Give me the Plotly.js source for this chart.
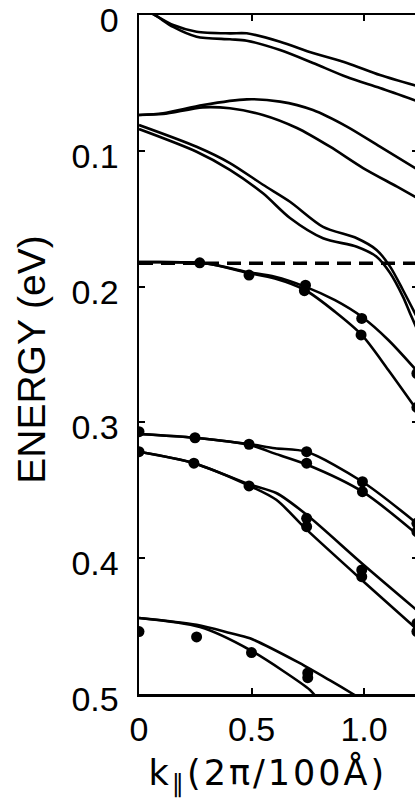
<!DOCTYPE html>
<html>
<head>
<meta charset="utf-8">
<script src="https://cdn.plot.ly/plotly-3.0.1.min.js"></script>
<style>
html,body{margin:0;padding:0;overflow:hidden;background:#fff;}
#chart .annotation-text.xtitle{letter-spacing:3px;}
</style>
</head>
<body>
<div id="chart" style="width:418px;height:799px;"></div>
<script>
// ---- calculated subband dispersion curves (k in 2pi/100A, E in eV) ----
const kA = [0, 0.07, 0.152, 0.256, 0.404, 0.479, 0.627, 0.773, 0.924, 1.071, 1.24];
const eA1 = [-0.006, 0, 0.0074, 0.0123, 0.0135, 0.0135, 0.0197, 0.028, 0.0353, 0.0442, 0.0525];
const eA2 = [-0.006, 0, 0.0088, 0.016, 0.0179, 0.0189, 0.0258, 0.0353, 0.0457, 0.0538, 0.0636];

const kB1 = [0, 0.107, 0.284, 0.479, 0.627, 0.773, 0.924, 1.071, 1.24];
const eB1 = [0.0736, 0.0724, 0.0663, 0.0621, 0.0638, 0.070, 0.0822, 0.097, 0.114];
const kB2 = [0, 0.107, 0.284, 0.404, 0.551, 0.702, 0.849, 0.996, 1.147, 1.24];
const eB2 = [0.0736, 0.0729, 0.068, 0.0687, 0.0736, 0.0832, 0.097, 0.1127, 0.1264, 0.135];

const kC1 = [0, 0.256, 0.404, 0.551, 0.671, 0.818, 0.968, 1.056, 1.116, 1.173, 1.24];
const eC1 = [0.081, 0.097, 0.109, 0.125, 0.1375, 0.156, 0.1644, 0.173, 0.1853, 0.2025, 0.224];
const kC2 = [0, 0.256, 0.404, 0.551, 0.671, 0.818, 0.968, 1.056, 1.116, 1.173, 1.204, 1.24];
const eC2 = [0.084, 0.1007, 0.114, 0.1313, 0.1495, 0.1644, 0.1706, 0.178, 0.19, 0.2074, 0.2194, 0.233];

const kD = [0, 0.3, 0.474, 0.604, 0.738, 0.871, 0.99, 1.108, 1.24];
const eD1 = [0.182, 0.183, 0.189, 0.1927, 0.2, 0.21, 0.2222, 0.2393, 0.263];
const eD2 = [0.182, 0.183, 0.1895, 0.194, 0.2025, 0.2185, 0.2356, 0.2614, 0.292];

const kE = [0, 0.249, 0.489, 0.604, 0.745, 0.993, 1.24];
const eE1 = [0.3085, 0.3113, 0.316, 0.319, 0.3216, 0.3437, 0.375];
const eE2 = [0.3085, 0.3113, 0.3165, 0.323, 0.331, 0.351, 0.383];

const kF = [0, 0.244, 0.489, 0.61, 0.745, 0.99, 1.24];
const eF1 = [0.3216, 0.330, 0.3455, 0.352, 0.368, 0.4037, 0.439];
const eF2 = [0.3216, 0.330, 0.3465, 0.357, 0.379, 0.416, 0.453];

const kG1 = [0, 0.256, 0.404, 0.493, 0.7, 0.849, 0.951, 1.0];
const eG1 = [0.444, 0.449, 0.455, 0.459, 0.476, 0.49, 0.5, 0.505];
const kG2 = [0, 0.271, 0.493, 0.76, 0.782, 0.82];
const eG2 = [0.444, 0.4507, 0.4676, 0.497, 0.501, 0.505];

// Fermi level (dashed)
const kFermi = [0, 1.24];
const eFermi = [0.1828, 0.1828];

// ---- measured points ----
const kDots = [0.27, 0.489, 0.74, 0.735, 0.99, 0.987, 1.235, 1.235,
               0.0, 0.249, 0.489, 0.745, 0.745, 0.993, 0.993, 1.235, 1.235,
               0.0, 0.244, 0.489, 0.745, 0.745, 0.99, 0.99, 1.235, 1.235,
               0.0, 0.256, 0.5, 0.75, 0.75];
const eDots = [0.1825, 0.1915, 0.199, 0.203, 0.2234, 0.2356, 0.264, 0.289,
               0.3068, 0.3113, 0.3161, 0.3216, 0.330, 0.3437, 0.351, 0.3743, 0.3805,
               0.3216, 0.330, 0.3468, 0.3706, 0.3768, 0.4087, 0.4136, 0.448, 0.454,
               0.454, 0.458, 0.4695, 0.4845, 0.488];

// ---- ticks ----
const xTickVals = [0, 0.5, 1.0];
const xTickText = ['0', '0.5', '1.0'];
const yTickVals = [0, 0.1, 0.2, 0.3, 0.4, 0.5];
const yTickText = ['0', '0.1', '0.2', '0.3', '0.4', '0.5'];

const lineStyle = {color: '#000', width: 2.6, shape: 'spline', smoothing: 0.8};
function curve(k, e) {
  return {x: k, y: e, mode: 'lines', line: lineStyle, hoverinfo: 'skip', showlegend: false};
}

const traces = [
  curve(kA, eA1), curve(kA, eA2),
  curve(kB1, eB1), curve(kB2, eB2),
  curve(kC1, eC1), curve(kC2, eC2),
  curve(kD, eD1), curve(kD, eD2),
  curve(kE, eE1), curve(kE, eE2),
  curve(kF, eF1), curve(kF, eF2),
  curve(kG1, eG1), curve(kG2, eG2),
  {x: kFermi, y: eFermi, mode: 'lines', line: {color: '#000', width: 3.5, dash: '14px,8px'}, showlegend: false},
  {x: kDots, y: eDots, mode: 'markers', marker: {color: '#000', size: 11}, showlegend: false}
];

const font = 'Liberation Sans, Arial, sans-serif';
const layout = {
  width: 418, height: 799,
  margin: {l: 139, r: 0, t: 15, b: 105},
  paper_bgcolor: '#fff', plot_bgcolor: '#fff',
  showlegend: false,
  xaxis: {
    range: [0, 1.24], tickvals: xTickVals, ticktext: xTickText,
    ticks: 'inside', ticklen: 6, tickwidth: 2, tickcolor: '#000',
    showline: true, linewidth: 2.5, linecolor: '#000', mirror: 'ticks',
    showgrid: false, zeroline: false,
    tickfont: {family: font, size: 34, color: '#000'},
    ticklabelstandoff: 4, ticklabeloverflow: 'allow'
  },
  yaxis: {
    range: [0.5, 0], tickvals: yTickVals, ticktext: yTickText,
    ticks: 'inside', ticklen: 6, tickwidth: 2, tickcolor: '#000',
    showline: true, linewidth: 2.5, linecolor: '#000', mirror: 'ticks',
    showgrid: false, zeroline: false,
    tickfont: {family: font, size: 34, color: '#000'},
    ticklabelstandoff: 11, ticklabeloverflow: 'allow', ticklabelshift: -5
  },
  annotations: [
    {text: 'ENERGY (eV)', xref: 'paper', yref: 'paper', x: -0.3835, y: 0.306,
     xanchor: 'center', yanchor: 'bottom', textangle: -90, showarrow: false,
     font: {family: font, size: 39, color: '#000'}},
    {text: 'k<sub>\u2225</sub>(2\u03c0/100\u00c5)', xref: 'paper', yref: 'paper', x: 0.462, y: -0.118,
     xanchor: 'center', yanchor: 'middle', showarrow: false,
     font: {family: 'DejaVu Sans, sans-serif', size: 35, color: '#000'}}
  ]
};

Plotly.newPlot('chart', traces, layout, {staticPlot: true, displayModeBar: false}).then(function () {
  // widen the x-axis title letter spacing to match the wide lettering of the original
  const anns = document.querySelectorAll('#chart .annotation-text');
  if (anns.length > 1) anns[1].classList.add('xtitle');
});
</script>
</body>
</html>
